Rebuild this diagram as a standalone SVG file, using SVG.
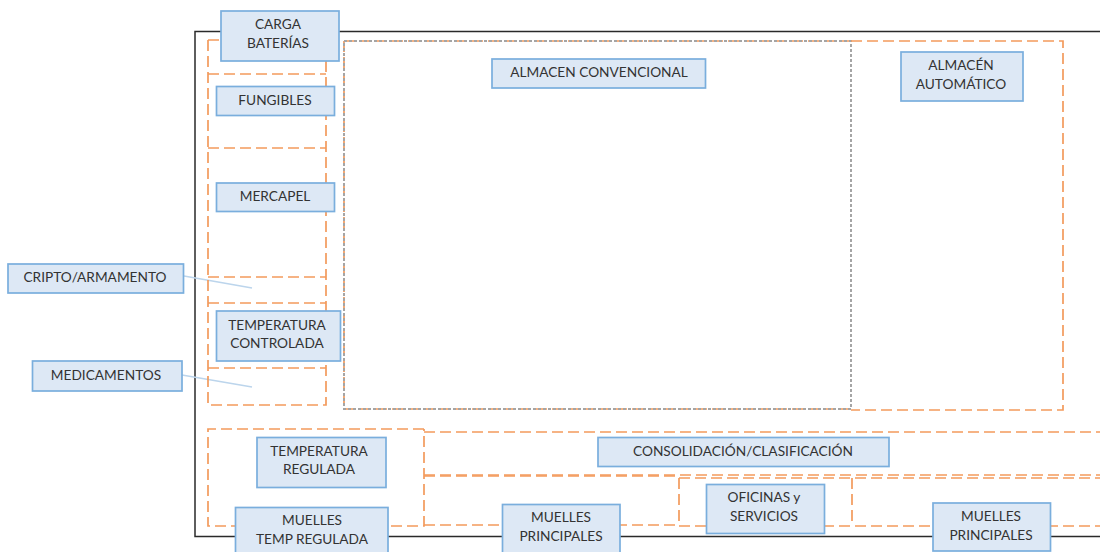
<svg xmlns="http://www.w3.org/2000/svg" width="1100" height="552" viewBox="0 0 1100 552">
<style>
.o{fill:none;stroke:#f39a5c;stroke-width:1.7;stroke-dasharray:11 5}
.g{fill:none;stroke:#a5a5a5;stroke-width:2;stroke-dasharray:3 2}
.b{fill:#dde8f5;stroke:#7aaedd;stroke-width:1.7}
.l{fill:none;stroke:#bcd5ec;stroke-width:1.6}
text{font-family:Lato,"Liberation Sans",Arial,sans-serif;font-size:13.7px;fill:#333;text-anchor:middle}
</style>
<rect width="1100" height="552" fill="#fff"/>
<path id="frame" d="M1100 31.500H195V536.500H1100" fill="none" stroke="#2a2a2a" stroke-width="1.500"/>
<g id="connectors">
<path class="l" d="M184 276L252 288"/>
<path class="l" d="M182 375L252 387"/>
<path class="o" d="M344 41H851M344 409H851M344 41V409"/>
<path class="g" d="M344 41H851V409H344Z"/>
<path class="o" d="M851 41H1063V410H851"/>
<path class="o" d="M208 40V405H326V40M208 40H222M208 74H326M208 148H326M208 277H326M208 303H326M208 368H326"/>
<path class="o" d="M424 429H208V526H424V429"/>
<path class="o" d="M424 432H1100M424 475H1100M424 525H679"/>
<path class="o" d="M424 476H679M679 478H1100M679 526H1100M679 478V526M852 478V525"/>
</g>
<g id="carga"><rect class="b" x="221" y="11" width="118" height="50"/><text x="278" y="29">CARGA</text><text x="278" y="48">BATERÍAS</text></g>
<g id="fungibles"><rect class="b" x="216.500" y="86.500" width="118" height="29"/><text x="275" y="104.500">FUNGIBLES</text></g>
<g id="mercapel"><rect class="b" x="216.500" y="183" width="118" height="28.500"/><text x="275" y="200.500">MERCAPEL</text></g>
<g id="cripto"><rect class="b" x="8" y="264" width="175.500" height="29"/><text x="95" y="281.500">CRIPTO/ARMAMENTO</text></g>
<g id="temp-controlada"><rect class="b" x="216.500" y="311" width="124" height="50"/><text x="277" y="329.500">TEMPERATURA</text><text x="277" y="348">CONTROLADA</text></g>
<g id="medicamentos"><rect class="b" x="32.500" y="361" width="149.500" height="30"/><text x="106" y="380">MEDICAMENTOS</text></g>
<g id="almacen-conv"><rect class="b" x="492" y="59" width="213.500" height="29"/><text x="599" y="77">ALMACEN CONVENCIONAL</text></g>
<g id="almacen-auto"><rect class="b" x="901" y="52" width="122" height="49"/><text x="961" y="70">ALMACÉN</text><text x="961" y="89">AUTOMÁTICO</text></g>
<g id="temp-regulada"><rect class="b" x="257" y="437.500" width="129" height="50"/><text x="319" y="455.500">TEMPERATURA</text><text x="319" y="474">REGULADA</text></g>
<g id="consolidacion"><rect class="b" x="598" y="437.500" width="291" height="29"/><text x="743" y="455.500">CONSOLIDACIÓN/CLASIFICACIÓN</text></g>
<g id="muelles-temp"><rect class="b" x="235.500" y="507.500" width="152.500" height="50"/><text x="312" y="525">MUELLES</text><text x="312" y="544">TEMP REGULADA</text></g>
<g id="muelles-1"><rect class="b" x="502.500" y="504.500" width="117.500" height="50"/><text x="561" y="522">MUELLES</text><text x="561" y="541">PRINCIPALES</text></g>
<g id="oficinas"><rect class="b" x="706.500" y="484.500" width="118" height="49"/><text x="764" y="502">OFICINAS y</text><text x="764" y="521">SERVICIOS</text></g>
<g id="muelles-2"><rect class="b" x="933" y="503" width="117.500" height="48"/><text x="991" y="521">MUELLES</text><text x="991" y="540">PRINCIPALES</text></g>
</svg>
